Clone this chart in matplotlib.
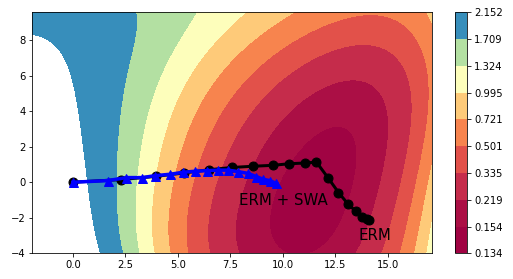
import numpy as np
import matplotlib
matplotlib.use("Agg")
import matplotlib.pyplot as plt

# colour levels of the loss surface (from the colorbar)
levels = [0.134, 0.154, 0.219, 0.335, 0.501, 0.721, 0.995, 1.324, 1.709, 2.152]

# points on each contour line as (x, y)
edge_2152 = [(1.58, -3.8), (1.14, -2.0), (0.8, 0.0), (0.5, 2.0), (0.14, 4.0), (-0.42, 6.0), (-1.66, 8.0), (-1.93, 8.47)]
edge_1709 = [(2.25, -3.8), (2.01, -2.0), (2.1, 0.0), (2.41, 4.0), (2.66, 6.0), (2.81, 8.0), (3.05, 9.2), (3.05, 9.56)]
edge_1324 = [(2.97, -3.8), (2.81, -2.0), (3.0, 0.0), (3.77, 4.0), (4.3, 6.0), (4.92, 8.0), (5.58, 9.2), (5.6, 9.56)]
edge_0995 = [(3.73, -3.8), (3.61, -2.0), (3.75, 0.0), (4.84, 4.0), (5.8, 6.0), (6.89, 8.0), (7.85, 9.2),
             (16.8, -3.8), (17.04, -2.0)]
edge_0721 = [(4.52, -3.8), (4.41, -2.0), (4.6, 0.0), (5.9, 4.0), (7.2, 6.0), (8.81, 8.0), (10.17, 9.2),
             (16.96, 9.2), (16.32, -3.8), (16.72, -2.0)]
edge_0501 = [(5.53, -3.8), (5.45, -2.0), (5.7, 0.0), (6.97, 4.0), (8.6, 6.0), (10.57, 8.0), (12.65, 8.56),
             (14.1, 9.4), (16.16, 8.56), (16.5, 8.0), (16.64, 6.5), (17.0, 4.0), (16.98, 2.4), (16.08, -2.0),
             (15.6, -3.8)]
edge_0335 = [(6.7, -3.8), (6.57, -2.0), (7.0, 0.0), (8.17, 4.0), (10.0, 6.0), (12.65, 7.66), (13.9, 8.07),
             (15.28, 7.66), (15.36, 7.06), (15.76, 5.56), (16.0, 4.0), (15.92, 2.38), (15.28, -2.0),
             (14.81, -3.8)]
edge_0219 = [(8.09, -3.8), (7.98, -2.0), (8.5, 0.0), (9.53, 4.0), (11.69, 5.0), (13.13, 6.22), (14.4, 5.56),
             (14.64, 4.0), (14.72, 2.38), (14.24, -2.0), (13.68, -3.8)]
edge_0154 = [(10.01, -3.8), (9.65, -2.0), (10.4, 1.25), (10.9, 2.94), (11.65, 3.48), (12.6, 2.94),
             (12.74, 1.25), (12.73, -2.0), (12.25, -3.8)]

# rough values inside the basin and in the white area (x, y, loss)
inner_pts = [(11.2, -1.5, 0.136), (11.4, 1.5, 0.145), (11.0, -3.8, 0.142)]
outer_pts = [(-1.93, -4.0, 2.58), (-1.93, 2.0, 2.46), (-1.93, 6.0, 2.30), (-1.9, 9.5, 2.05)]
loss_cap = 2.6  # loss flattens out towards this value far from the basin

# trajectories
erm_x = [0.0, 2.31, 3.96, 5.28, 6.48, 7.58, 8.6, 9.52, 10.3, 11.05, 11.6, 12.17, 12.65, 13.1, 13.46, 13.78, 14.0, 14.12]
erm_y = [0.0, 0.15, 0.33, 0.52, 0.7, 0.83, 0.9, 0.95, 1.04, 1.08, 1.13, 0.22, -0.58, -1.22, -1.62, -1.93, -2.07, -2.12]
swa_x = [0.0, 1.66, 2.55, 3.31, 3.92, 4.65, 5.24, 5.84, 6.4, 6.92, 7.4, 7.85, 8.33, 8.73, 9.05, 9.37, 9.69]
swa_y = [0.0, 0.09, 0.26, 0.26, 0.37, 0.45, 0.56, 0.62, 0.65, 0.68, 0.68, 0.6, 0.5, 0.32, 0.17, 0.09, -0.06]

x_range = (-1.93, 17.1)
y_range = (-4.0, 9.56)


def basis(x, y, deg=5):
    xs = (np.asarray(x) - 7.6) / 9.6
    ys = (np.asarray(y) - 2.8) / 6.8
    return np.stack([xs**i * ys**j for i in range(deg + 1) for j in range(deg + 1 - i)], axis=-1)


# smooth surface through the read-off contour points (fitted in logit space)
edges = [edge_0154, edge_0219, edge_0335, edge_0501, edge_0721, edge_0995, edge_1324, edge_1709, edge_2152]
px, py, pv = [], [], []
for lev, edge in zip(levels[1:], edges):
    for x, y in edge:
        px.append(x); py.append(y); pv.append(lev)
for x, y, v in inner_pts + outer_pts:
    px.append(x); py.append(y); pv.append(v)
pv = np.array(pv)

t = np.log(pv / (loss_cap - pv))
coef = np.linalg.lstsq(basis(px, py), t, rcond=None)[0]
gx = np.linspace(*x_range, 500)
gy = np.linspace(*y_range, 350)
X, Y = np.meshgrid(gx, gy)
Z = loss_cap / (1 + np.exp(-(basis(X, Y) @ coef)))
Z = np.clip(Z, 0.1345, None)

fig = plt.figure(figsize=(513 / 72, 279 / 72), dpi=72)
ax = fig.add_axes([0.063, 0.092, 0.779, 0.864])
cax = fig.add_axes([0.887, 0.092, 0.0234, 0.864])

cs = ax.contourf(X, Y, Z, levels=levels, cmap="Spectral", antialiased=False)
ax.plot(erm_x, erm_y, "o-", color="black", lw=3, ms=9)
ax.plot(swa_x, swa_y, "^-", color="blue", lw=3.5, ms=9)
ax.text(7.9, -1.27, "ERM + SWA", fontsize=15)
ax.text(13.6, -3.24, "ERM", fontsize=15)
ax.set_xlim(*x_range)
ax.set_ylim(*y_range)

cb = fig.colorbar(cs, cax=cax, ticks=levels, format="%.3f")

fig.savefig("out.png", dpi=72)
